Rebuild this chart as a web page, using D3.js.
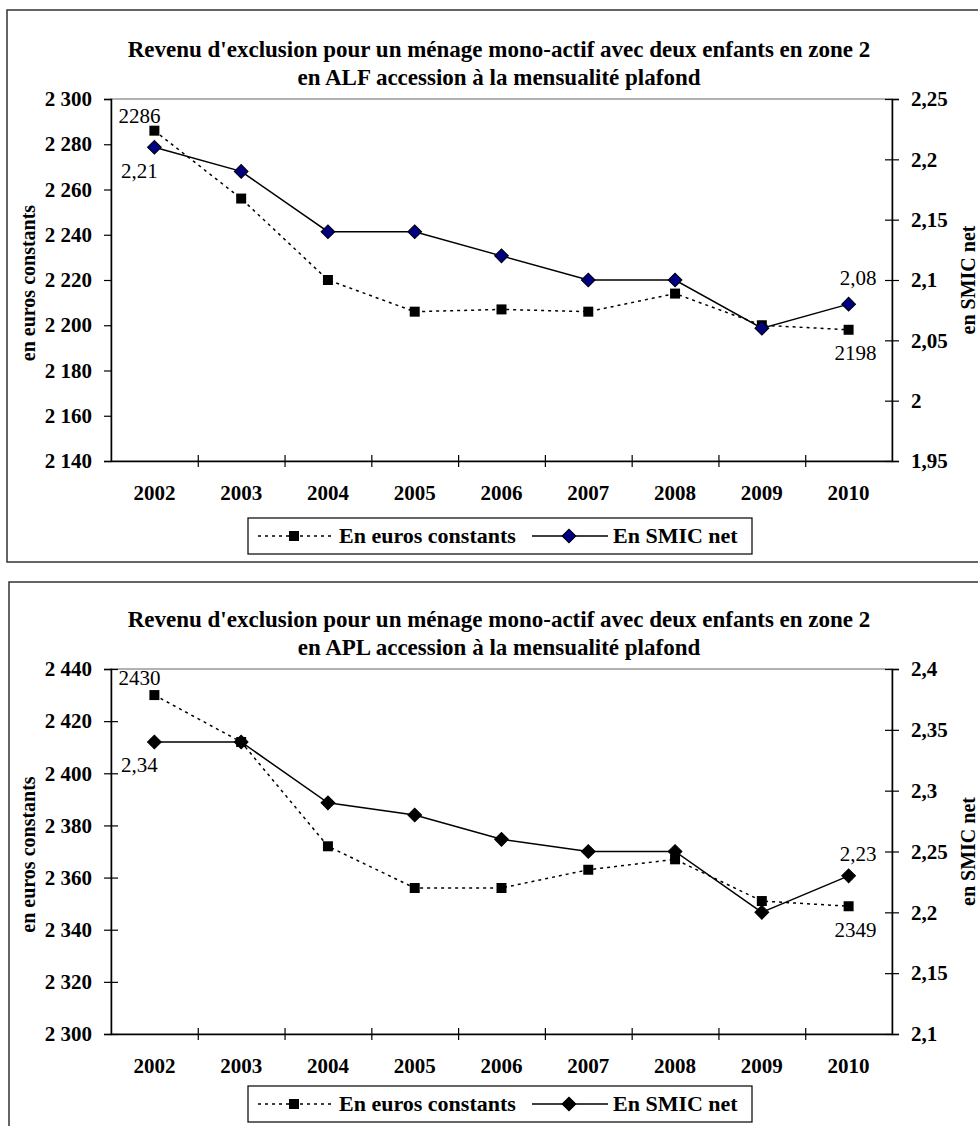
<!DOCTYPE html>
<html>
<head>
<meta charset="utf-8">
<script src="https://cdn.jsdelivr.net/npm/d3@7"></script>
<style>
  body { margin: 0; background: #fff; }
  svg { display: block; font-family: "Liberation Serif", "Times New Roman", serif; }
</style>
</head>
<body>
<svg id="chart" width="978" height="1126"></svg>
<script>
// data
const years = ['2002', '2003', '2004', '2005', '2006', '2007', '2008', '2009', '2010'];

const alfEuros = [2286, 2256, 2220, 2206, 2207, 2206, 2214, 2200, 2198];
const alfSmic  = [2.21, 2.19, 2.14, 2.14, 2.12, 2.10, 2.10, 2.06, 2.08];

const aplEuros = [2430, 2412, 2372, 2356, 2356, 2363, 2367, 2351, 2349];
const aplSmic  = [2.34, 2.34, 2.29, 2.28, 2.26, 2.25, 2.25, 2.20, 2.23];

const alfLeftTicks  = [2140, 2160, 2180, 2200, 2220, 2240, 2260, 2280, 2300];
const alfRightTicks = [1.95, 2, 2.05, 2.1, 2.15, 2.2, 2.25];
const aplLeftTicks  = [2300, 2320, 2340, 2360, 2380, 2400, 2420, 2440];
const aplRightTicks = [2.1, 2.15, 2.2, 2.25, 2.3, 2.35, 2.4];

const titleLine1 = "Revenu d'exclusion pour un ménage mono-actif avec deux enfants en zone 2";
const alfTitle2 = "en ALF accession à la mensualité plafond";
const aplTitle2 = "en APL accession à la mensualité plafond";

const fr = d3.formatLocale({decimal: ',', thousands: ' ', grouping: [3], currency: ['', ' €']});
const fmtLeft = fr.format(',d');
const fmtRight = fr.format('.2~f');

const FONT = '"Liberation Serif", "Times New Roman", serif';
const svg = d3.select('#chart');

function drawChart(cfg) {
    let vis = {};
    const g = svg.append('g');

    // outer frame
    g.append('rect')
        .attr('x', cfg.frame.x).attr('y', cfg.frame.y)
        .attr('width', cfg.frame.w).attr('height', cfg.frame.h)
        .attr('fill', 'none').attr('stroke', '#333').attr('stroke-width', 1.5);

    g.append('text').attr('x', 499).attr('y', cfg.top - 42)
        .attr('text-anchor', 'middle').attr('font-weight', 700).attr('font-size', 23)
        .text(titleLine1);
    g.append('text').attr('x', 499).attr('y', cfg.top - 14)
        .attr('text-anchor', 'middle').attr('font-weight', 700).attr('font-size', 23)
        .text(cfg.title2);

    vis.x = d3.scaleBand().domain(years).range([111, 892]).padding(0);
    vis.xPos = d3.scaleLinear().domain([0, years.length]).range([111, 892]);
    vis.yL = d3.scaleLinear().domain(cfg.leftDomain).range([cfg.bottom, cfg.top]);
    vis.yR = d3.scaleLinear().domain(cfg.rightDomain).range([cfg.bottom, cfg.top]);

    // plot area border (only the top edge stays visible, in grey)
    g.append('rect')
        .attr('x', 111).attr('y', cfg.top).attr('width', 892 - 111).attr('height', cfg.bottom - cfg.top)
        .attr('fill', 'none').attr('stroke', '#999').attr('stroke-width', 1.5);

    const cx = (d, i) => vis.x(years[i]) + vis.x.bandwidth() / 2;

    // euros series (dotted)
    g.append('path').datum(cfg.euros)
        .attr('fill', 'none').attr('stroke', '#000').attr('stroke-width', 1.5)
        .attr('stroke-dasharray', '3,4')
        .attr('d', d3.line().x(cx).y(d => vis.yL(d)));
    // smic series (solid)
    g.append('path').datum(cfg.smic)
        .attr('fill', 'none').attr('stroke', '#000').attr('stroke-width', 1.5)
        .attr('d', d3.line().x(cx).y(d => vis.yR(d)));

    const square = d3.symbol().type(d3.symbolSquare).size(100);
    const diamond = d3.symbol().type(d3.symbolSquare).size(95);

    g.selectAll('.sq').data(cfg.euros).join('path')
        .attr('class', 'sq')
        .attr('d', square)
        .attr('fill', '#000')
        .attr('transform', (d, i) => `translate(${cx(d, i)},${vis.yL(d)})`);

    g.selectAll('.dm').data(cfg.smic).join('path')
        .attr('class', 'dm')
        .attr('d', diamond)
        .attr('fill', cfg.diamondFill).attr('stroke', '#000').attr('stroke-width', 1)
        .attr('transform', (d, i) => `translate(${cx(d, i)},${vis.yR(d)}) rotate(45)`);

    // axes
    const xAxisG = g.append('g')
        .attr('transform', `translate(0,${cfg.bottom})`)
        .call(d3.axisBottom(vis.xPos).tickValues(d3.range(1, years.length)).tickFormat('').tickSizeOuter(0));
    xAxisG.selectAll('.tick line').attr('y1', -6).attr('y2', 6);

    g.append('g').selectAll('text').data(years).join('text')
        .attr('x', d => vis.x(d) + vis.x.bandwidth() / 2)
        .attr('y', cfg.bottom + 39)
        .attr('text-anchor', 'middle').attr('font-weight', 700).attr('font-size', 21)
        .text(d => d);

    const yLG = g.append('g')
        .attr('transform', 'translate(111,0)')
        .call(d3.axisLeft(vis.yL).tickValues(cfg.leftTicks).tickFormat(fmtLeft).tickSizeOuter(0).tickSize(7).tickPadding(12));
    if (cfg.crossLeft) yLG.selectAll('.tick line').attr('x2', 7).attr('x1', -7);

    const yRG = g.append('g')
        .attr('transform', 'translate(892,0)')
        .call(d3.axisRight(vis.yR).tickValues(cfg.rightTicks).tickFormat(fmtRight).tickSizeOuter(0).tickSize(7).tickPadding(12));
    yRG.selectAll('.tick line').attr('x1', -7).attr('x2', 7);

    [xAxisG, yLG, yRG].forEach(a => {
        a.select('.domain').attr('stroke', '#000').attr('stroke-width', 1.5);
        a.selectAll('.tick line').attr('stroke', '#000').attr('stroke-width', 1.2);
        a.selectAll('.tick text')
            .attr('font-family', FONT)
            .attr('font-size', 21).attr('font-weight', 700).attr('fill', '#000');
    });

    const midY = (cfg.top + cfg.bottom) / 2;
    g.append('text')
        .attr('transform', `translate(35,${midY + 3}) rotate(-90)`)
        .attr('text-anchor', 'middle').attr('font-weight', 700).attr('font-size', 20)
        .text('en euros constants');
    g.append('text')
        .attr('transform', `translate(975,${midY}) rotate(-90)`)
        .attr('text-anchor', 'middle').attr('font-weight', 700).attr('font-size', 20)
        .text('en SMIC net');

    // data labels
    const n = years.length - 1;
    const first = cx(null, 0), last = cx(null, n);
    const lbl = (x, y, anchor, t) => g.append('text')
        .attr('x', x).attr('y', y).attr('text-anchor', anchor).attr('font-size', 21).text(t);
    lbl(first - 15, vis.yL(cfg.euros[0]) - cfg.lbl.e0, 'middle', String(cfg.euros[0]));
    lbl(first - 15, vis.yR(cfg.smic[0]) + cfg.lbl.s0, 'middle', fmtRight(cfg.smic[0]));
    lbl(last + 28, vis.yR(cfg.smic[n]) - cfg.lbl.sN, 'end', fmtRight(cfg.smic[n]));
    lbl(last + 28, vis.yL(cfg.euros[n]) + cfg.lbl.eN, 'end', String(cfg.euros[n]));

    // legend
    const lg = g.append('g').attr('transform', `translate(248,${cfg.legendY})`);
    lg.append('rect').attr('width', 504).attr('height', 36)
        .attr('fill', '#fff').attr('stroke', '#000').attr('stroke-width', 1.2);
    lg.append('line').attr('x1', 10).attr('x2', 84).attr('y1', 18).attr('y2', 18)
        .attr('stroke', '#000').attr('stroke-width', 1.5).attr('stroke-dasharray', '3,4');
    lg.append('path').attr('d', square).attr('transform', 'translate(46,18)');
    lg.append('text').attr('x', 91).attr('y', 25).attr('font-weight', 700).attr('font-size', 22)
        .text('En euros constants');
    lg.append('line').attr('x1', 284).attr('x2', 360).attr('y1', 18).attr('y2', 18)
        .attr('stroke', '#000').attr('stroke-width', 1.5);
    lg.append('path').attr('d', diamond).attr('fill', cfg.diamondFill).attr('stroke', '#000')
        .attr('transform', 'translate(321,18) rotate(45)');
    lg.append('text').attr('x', 365).attr('y', 25).attr('font-weight', 700).attr('font-size', 22)
        .text('En SMIC net');
}

drawChart({
    frame: {x: 7, y: 10, w: 1000, h: 552},
    top: 99, bottom: 461,
    title2: alfTitle2,
    leftDomain: [2140, 2300], rightDomain: [1.95, 2.25],
    leftTicks: alfLeftTicks, rightTicks: alfRightTicks,
    euros: alfEuros, smic: alfSmic,
    diamondFill: '#000080',
    crossLeft: false,
    lbl: {e0: 8, s0: 31, sN: 19, eN: 30},
    legendY: 518
});

drawChart({
    frame: {x: 9, y: 582, w: 1000, h: 600},
    top: 669, bottom: 1034,
    title2: aplTitle2,
    leftDomain: [2300, 2440], rightDomain: [2.1, 2.4],
    leftTicks: aplLeftTicks, rightTicks: aplRightTicks,
    euros: aplEuros, smic: aplSmic,
    diamondFill: '#000',
    crossLeft: true,
    lbl: {e0: 10, s0: 30, sN: 15, eN: 31},
    legendY: 1086
});
</script>
</body>
</html>
